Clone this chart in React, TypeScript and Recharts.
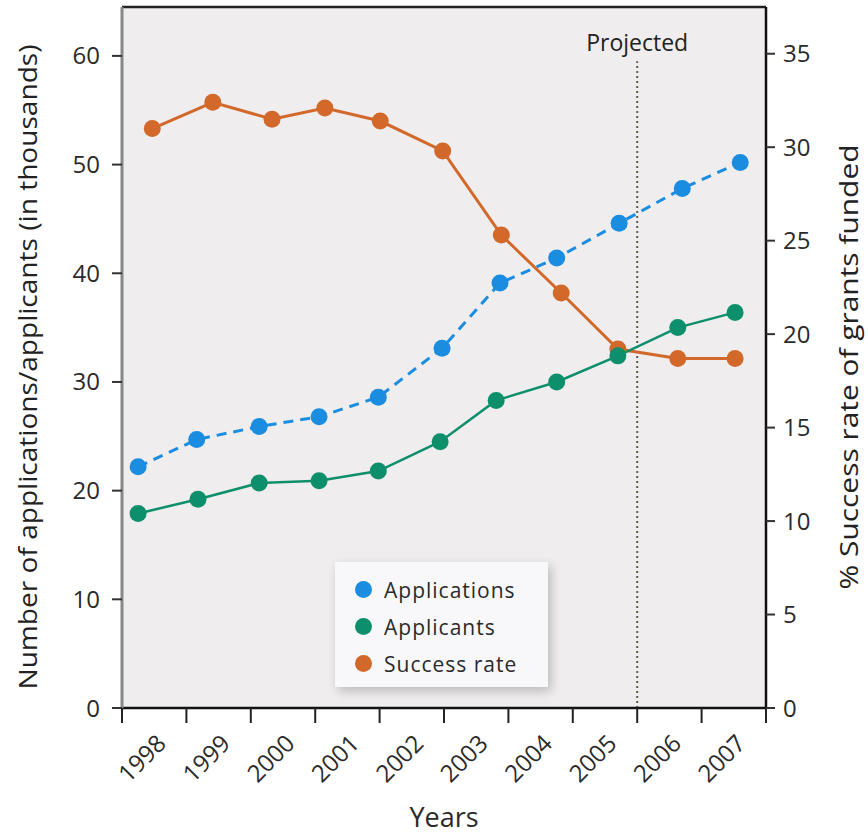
import { LineChart, Line, XAxis, YAxis, CartesianGrid, ReferenceLine, Legend } from "recharts";

const years = ["1998", "1999", "2000", "2001", "2002", "2003", "2004", "2005", "2006", "2007"];
const yearTicks = [0, 1, 2, 3, 4, 5, 6, 7, 8, 9, 10];
const leftTicks = [0, 10, 20, 30, 40, 50, 60];
const rightTicks = [0, 5, 10, 15, 20, 25, 30, 35];

// x is in "year slot" units (tick k = end of slot k)
const applicationsX = [0.25, 1.16, 2.13, 3.06, 3.98, 4.97, 5.87, 6.75, 7.72, 8.7, 9.6];
const applications = [22.2, 24.7, 25.9, 26.8, 28.6, 33.1, 39.1, 41.4, 44.6, 47.8, 50.2];
const applicantsX = [0.25, 1.18, 2.13, 3.06, 3.98, 4.94, 5.81, 6.75, 7.7, 8.63, 9.52];
const applicants = [17.9, 19.2, 20.7, 20.9, 21.8, 24.5, 28.3, 30.0, 32.4, 35.0, 36.4];
const successX = [0.47, 1.41, 2.33, 3.15, 4.01, 4.98, 5.89, 6.82, 7.7, 8.63, 9.52];
const successRate = [31.0, 32.4, 31.5, 32.1, 31.4, 29.8, 25.3, 22.2, 19.2, 18.7, 18.7];

const BLUE = "#1b8de0";
const GREEN = "#0d8f6c";
const ORANGE = "#d2692b";
const FONT = "'Open Sans', sans-serif";

const toRows = (xs: number[], vs: number[]) => xs.map((x, i) => ({ x, v: vs[i] }));

const series = [
  { name: "Applications", color: BLUE },
  { name: "Applicants", color: GREEN },
  { name: "Success rate", color: ORANGE },
];

const YearTick = ({ x, y, payload }: any) => {
  const label = payload.value > 0 ? years[payload.value - 1] : "";
  const ax = x - 19;
  const ay = y + 22;
  return (
    <text
      x={ax}
      y={ay}
      transform={`rotate(-45 ${ax} ${ay})`}
      textAnchor="end"
      fontSize={24}
      fontFamily={FONT}
      fill="#2a2a2a"
    >
      {label}
    </text>
  );
};

const renderLegend = () => (
  <div
    style={{
      background: "#f8f8fa",
      boxShadow: "3px 4px 10px rgba(0,0,0,0.22)",
      width: 213,
      height: 125,
      boxSizing: "border-box",
      paddingTop: 9,
      paddingLeft: 20,
      fontFamily: FONT,
    }}
  >
    {series.map((s) => (
      <div key={s.name} style={{ display: "flex", alignItems: "center", height: 37 }}>
        <span
          style={{
            width: 17,
            height: 17,
            borderRadius: "50%",
            background: s.color,
            display: "inline-block",
            marginRight: 12,
          }}
        />
        <span style={{ fontSize: 21, letterSpacing: 1, color: "#2a2a2a" }}>{s.name}</span>
      </div>
    ))}
  </div>
);

const LeftTitle = ({ viewBox }: any) => {
  const cx = viewBox.x + 27;
  const cy = 367;
  return (
    <text
      x={cx}
      y={cy}
      transform={`rotate(-90 ${cx} ${cy})`}
      textAnchor="middle"
      dominantBaseline="central"
      fontSize={26}
      fontFamily={FONT}
      fill="#222"
      textLength={645}
      lengthAdjust="spacingAndGlyphs"
    >
      Number of applications/applicants (in thousands)
    </text>
  );
};

const RightTitle = ({ viewBox }: any) => {
  const cx = viewBox.x + 82;
  const cy = 367;
  return (
    <text
      x={cx}
      y={cy}
      transform={`rotate(-90 ${cx} ${cy})`}
      textAnchor="middle"
      dominantBaseline="central"
      fontSize={26}
      fontFamily={FONT}
      fill="#222"
      textLength={445}
      lengthAdjust="spacingAndGlyphs"
    >
      % Success rate of grants funded
    </text>
  );
};

export default function App() {
  const tickStyle = { fontSize: 24, fontFamily: FONT, fill: "#2a2a2a" };
  return (
    <div style={{ position: "absolute", left: 0, top: 0, background: "#fff" }}>
      <LineChart width={868} height={835} margin={{ top: 7, right: 0, bottom: 0, left: 0 }}>
        <CartesianGrid yAxisId="left" horizontal={false} vertical={false} fill="#efedee" />
        <XAxis
          dataKey="x"
          type="number"
          domain={[0, 10]}
          ticks={yearTicks}
          interval={0}
          height={127}
          tickSize={15}
          tickMargin={0}
          tick={<YearTick />}
          axisLine={{ stroke: "#111", strokeWidth: 2.5 }}
          tickLine={{ stroke: "#222", strokeWidth: 2 }}
          label={{
            value: "Years",
            position: "insideBottom",
            offset: 8,
            dx: 0,
            fontSize: 27,
            fontFamily: FONT,
            fill: "#2a2a2a",
          }}
        />
        <YAxis
          yAxisId="left"
          domain={[0, 64.5]}
          ticks={leftTicks}
          width={122}
          tickSize={10}
          tickMargin={12}
          tick={tickStyle}
          axisLine={{ stroke: "#888", strokeWidth: 3 }}
          tickLine={{ stroke: "#333", strokeWidth: 2 }}
          label={{ content: <LeftTitle /> }}
        />
        <YAxis
          yAxisId="right"
          orientation="right"
          domain={[0, 37.5]}
          ticks={rightTicks}
          width={102}
          tickSize={9}
          tickMargin={8}
          tick={tickStyle}
          axisLine={{ stroke: "#111", strokeWidth: 2.5 }}
          tickLine={{ stroke: "#333", strokeWidth: 2 }}
          label={{ content: <RightTitle /> }}
        />
        <ReferenceLine yAxisId="left" y={64.5} stroke="#222" strokeWidth={2.5} />
        <ReferenceLine
          yAxisId="left"
          segment={[
            { x: 8, y: 0 },
            { x: 8, y: 59.5 },
          ]}
          stroke="#5a5e48"
          strokeWidth={2}
          strokeDasharray="2 3"
          label={{ value: "Projected", position: "top", offset: 10, fontSize: 23, fontFamily: FONT, fill: "#222" }}
        />
        <Line
          yAxisId="left"
          data={toRows(applicationsX, applications)}
          dataKey="v"
          name="Applications"
          stroke={BLUE}
          strokeWidth={3}
          strokeDasharray="10 7"
          dot={{ r: 8.5, fill: BLUE, stroke: BLUE, strokeWidth: 0, strokeDasharray: "" }}
          isAnimationActive={false}
        />
        <Line
          yAxisId="right"
          data={toRows(successX, successRate)}
          dataKey="v"
          name="Success rate"
          stroke={ORANGE}
          strokeWidth={3}
          dot={{ r: 8.5, fill: ORANGE, stroke: ORANGE, strokeWidth: 0 }}
          isAnimationActive={false}
        />
        <Line
          yAxisId="left"
          data={toRows(applicantsX, applicants)}
          dataKey="v"
          name="Applicants"
          stroke={GREEN}
          strokeWidth={2.5}
          dot={{ r: 8.5, fill: GREEN, stroke: GREEN, strokeWidth: 0 }}
          isAnimationActive={false}
        />
        <Legend
          layout="vertical"
          align="center"
          verticalAlign="middle"
          content={renderLegend}
          wrapperStyle={{ left: 335, top: 562, width: 213, height: 125 }}
        />
      </LineChart>
    </div>
  );
}
